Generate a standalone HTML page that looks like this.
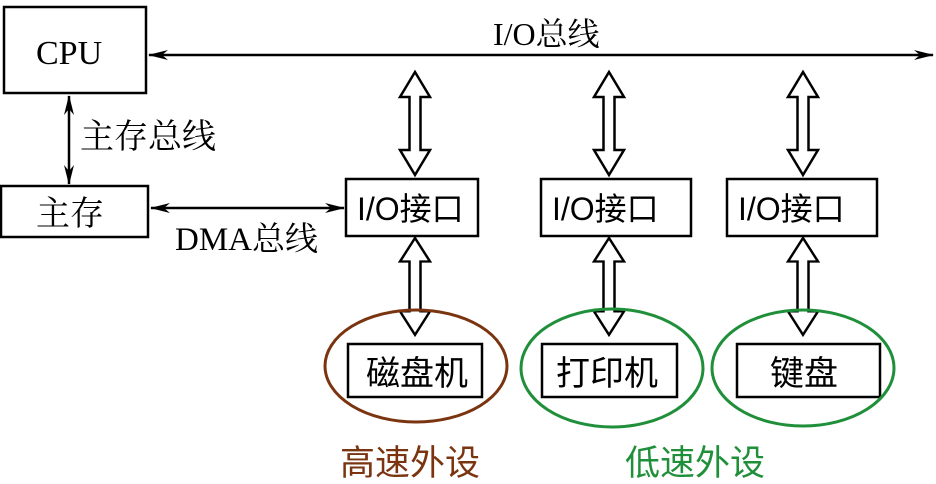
<!DOCTYPE html>
<html><head><meta charset="utf-8"><style>
html,body{margin:0;padding:0;background:#fff;}
svg{display:block}
.s{font-family:"Liberation Serif","Noto Serif CJK SC",serif;}
.a{font-family:"Liberation Sans","Noto Sans CJK SC",sans-serif;}
</style></head><body>
<svg width="936" height="484" viewBox="0 0 936 484" xmlns="http://www.w3.org/2000/svg">
<defs>
<marker id="ah" markerWidth="20" markerHeight="10" refX="19" refY="5" orient="auto-start-reverse" markerUnits="userSpaceOnUse">
<path d="M0,0 L20,5 L0,10 L6,5 Z" fill="#000"/></marker>
<g id="dbl"><path d="M0,0 L15,25 L5.5,25 L5.5,78 L15,78 L0,103 L-15,78 L-5.5,78 L-5.5,25 L-15,25 Z" fill="#fff" stroke="#000" stroke-width="2.5" stroke-linejoin="miter"/></g>
</defs>
<g fill="none" stroke="#000" stroke-width="2.5">
<rect x="4" y="7" width="142" height="86"/>
<rect x="1" y="186" width="147" height="51"/>
<rect x="346" y="179" width="132" height="57"/>
<rect x="541" y="179" width="150" height="57"/>
<rect x="727" y="179" width="150" height="57"/>
<rect x="348" y="344" width="134" height="53"/>
<rect x="542" y="344" width="135" height="53"/>
<rect x="737" y="344" width="143" height="53"/>
</g>
<g stroke="#000" stroke-width="2.5">
<line x1="149" y1="55" x2="933" y2="55" marker-start="url(#ah)" marker-end="url(#ah)"/>
<line x1="69" y1="96" x2="69" y2="184" marker-start="url(#ah)" marker-end="url(#ah)"/>
<line x1="151" y1="208" x2="344" y2="208" marker-start="url(#ah)" marker-end="url(#ah)"/>
</g>
<use href="#dbl" x="415" y="72"/>
<use href="#dbl" x="609" y="72"/>
<use href="#dbl" x="803" y="72"/>
<g transform="translate(0,238) scale(1,0.94)">
<use href="#dbl" x="415" y="0"/>
<use href="#dbl" x="609" y="0"/>
<use href="#dbl" x="803" y="0"/>
</g>
<ellipse cx="416" cy="366" rx="91" ry="56" fill="none" stroke="#7a3510" stroke-width="3"/>
<ellipse cx="612" cy="368" rx="91" ry="59" fill="none" stroke="#1f8f3a" stroke-width="3"/>
<ellipse cx="803" cy="368" rx="91" ry="58" fill="none" stroke="#1f8f3a" stroke-width="3"/>
<g class="s" fill="#000">
<text x="36" y="64" font-size="34">CPU</text>
<text x="36" y="225" font-size="34">主存</text>
<text x="80" y="148" font-size="34">主存总线</text>
<text x="175" y="250" font-size="33">DMA总线</text>
<text x="493" y="45" font-size="32">I/O总线</text>
</g>
<g class="a" fill="#000">
<text x="357" y="220" font-size="32">I/O接口</text>
<text x="552" y="220" font-size="32">I/O接口</text>
<text x="738" y="220" font-size="32">I/O接口</text>
<text x="366" y="385" font-size="34">磁盘机</text>
<text x="556" y="385" font-size="34">打印机</text>
<text x="770" y="385" font-size="34">键盘</text>
</g>
<text class="a" x="340" y="475" font-size="35" fill="#7a3510">高速外设</text>
<text class="a" x="625" y="475" font-size="35" fill="#1f8f3a">低速外设</text>
</svg>
</body></html>
